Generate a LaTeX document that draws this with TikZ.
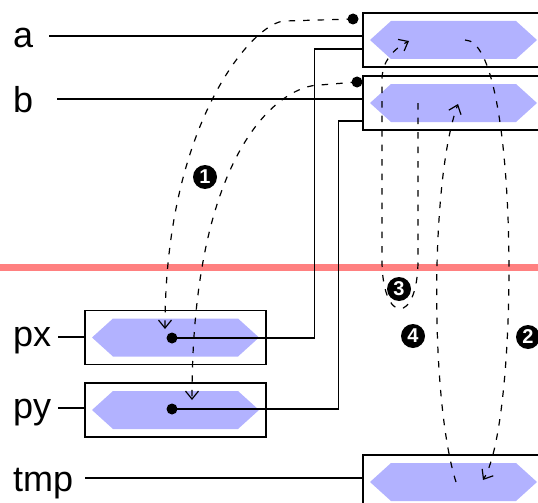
\documentclass[tikz,border=0pt]{standalone}
\usepackage{fontspec}
\setmainfont{Liberation Sans}
\usetikzlibrary{arrows.meta}
\begin{document}
\begin{tikzpicture}[x=1pt,y=-1pt,
  slot/.style={draw,line width=1.2pt,minimum width=181pt,minimum height=54pt,inner sep=0pt},
  wire/.style={line width=1.1pt},
  flow/.style={dash pattern=on 6.5pt off 8pt,line width=1.2pt,-{Straight Barb[length=8pt,width=13pt]}},
  num/.style={circle,fill=black,text=white,inner sep=0pt,minimum size=24pt,font=\fontsize{20}{20}\selectfont\bfseries},
  varname/.style={anchor=base west,inner sep=0pt,font=\fontsize{36}{40}\selectfont},
  hexa/.pic={\fill[blue!30] (-83.5,0) -- (-62.5,-19) -- (62.5,-19) -- (83.5,0) -- (62.5,19) -- (-62.5,19) -- cycle;}]
\useasboundingbox (0,0) rectangle (538,503);

% Separator
\draw[line width=7pt,red!50] (0,267.5) -- (538,267.5);

% Boxes with their values
\node[slot] (boxa) at (453.5,40) {};
\node[slot] (boxb) at (453.5,103) {};
\node[slot] (boxpx) at (175.5,337.5) {};
\node[slot] (boxpy) at (175.5,410) {};
\node[slot] (boxtmp) at (453.5,482) {};
\foreach \n in {boxa,boxb,boxpx,boxpy,boxtmp}
  \pic at (\n.center) {hexa};

% Variable names
\node[varname] (la) at (13,48) {a};
\node[varname] (lb) at (13,112) {b};
\node[varname] (lpx) at (13,346) {px};
\node[varname] (lpy) at (13,418) {py};
\node[varname] (ltmp) at (13,491) {tmp};

\coordinate (sa) at (49,36);
\coordinate (sb) at (57,99);
\coordinate (spx) at (58,337);
\coordinate (spy) at (58,408);
\coordinate (stmp) at (85,478);
\draw[wire] (sa) -- (sa -| boxa.west);
\draw[wire] (sb) -- (sb -| boxb.west);
\draw[wire] (spx) -- (spx -| boxpx.west);
\draw[wire] (spy) -- (spy -| boxpy.west);
\draw[wire] (stmp) -- (stmp -| boxtmp.west);

% Pointers
\coordinate (dpx) at (172,338);
\coordinate (dpy) at (172,409);
\coordinate (ina) at ([yshift=-9pt]boxa.west);
\coordinate (inb) at ([yshift=-18pt]boxb.west);
\fill (dpx) circle (5.5pt);
\fill (dpy) circle (5.5pt);
\draw[wire] (dpx) -| ([xshift=-48pt]ina) -- (ina);
\draw[wire] (dpy) -| ([xshift=-24pt]inb) -- (inb);

% Steps
\coordinate (da) at (353,19);
\coordinate (db) at (357,82);
\fill (da) circle (5.5pt);
\fill (db) circle (5.5pt);
\draw[flow] (da) -- (285,21) .. controls (255,21) and (165,120) .. (165,329);
\draw[flow] (db) -- (320,85) .. controls (280,85) and (192,150) .. (192,400);
\draw[flow] (465,40) .. controls (520,40) and (520,420) .. (483,480);
\draw[flow] (418,103) -- (418,260) .. controls (418,325) and (382,325) .. (382,260)
  -- (382,80) .. controls (382,62) and (392,50) .. (409,41);
\draw[flow] (456,482) .. controls (430,400) and (430,180) .. (458,104);

\node[num] (n1) at (205,177) {1};
\node[num] (n2) at (528,337) {2};
\node[num] (n3) at (399,289) {3};
\node[num] (n4) at (413,336) {4};
\end{tikzpicture}
\end{document}
